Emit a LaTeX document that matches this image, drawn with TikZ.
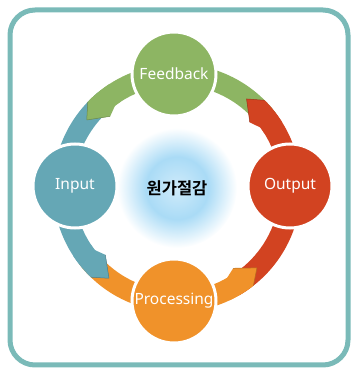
\documentclass[tikz,border=0pt]{standalone}
\usepackage{fontspec}
\setmainfont{Noto Sans}
\newfontfamily\kor{Noto Sans CJK KR Bold}
\usepackage{tikz}
\definecolor{fbgreen}{RGB}{141,181,99}
\definecolor{inblue}{RGB}{101,167,181}
\definecolor{outred}{RGB}{210,67,33}
\definecolor{procorange}{RGB}{240,146,42}
\definecolor{framecol}{RGB}{122,186,184}
\definecolor{glowblue}{RGB}{160,215,245}
\pgfdeclareradialshading{glow}{\pgfpoint{0bp}{0bp}}{color(0bp)=(glowblue!50!white); color(13bp)=(glowblue!90!white); color(25bp)=(white); color(50bp)=(white)}

\newcommand{\ringout}{124}
\newcommand{\ringin}{103}
% ring band, from angle #2 up to the head at #3
\newcommand{\ringbody}[3]{%
  \fill[#1] (#2:\ringout) arc[start angle=#2, end angle=#3-8, radius=\ringout]
    -- (#3-8:\ringin) arc[start angle=#3-8, end angle=#2, radius=\ringin] -- cycle;}
% arrow head, tip at angle #2
\newcommand{\ringhead}[2]{%
  \fill[#1] (#2-20:\ringout) arc[start angle=#2-20, end angle=#2-7, radius=\ringout]
    -- (#2:113) -- (#2-10:98) -- (#2-16:\ringin)
    arc[start angle=#2-16, end angle=#2-20, radius=\ringin] -- cycle;
  \draw[#1!75!black, line width=0.5pt, line join=round] (#2-7:\ringout) -- (#2:113) -- (#2-10:98);}

\begin{document}
\begin{tikzpicture}[x=1pt, y=1pt,
  stage/.style={circle, draw=white, line width=3pt, minimum size=84pt, inner sep=0pt,
    text=white, font=\fontsize{15.5}{18}\selectfont}]
  \useasboundingbox (0,0) rectangle (351,370);
  \draw[framecol, line width=5pt, rounded corners=25pt] (10,5) rectangle (348,360);
  \coordinate (c) at (177,182);
  \shade[shading=glow] (c) circle (60);

  \begin{scope}[shift={(c)}]
    \ringbody{inblue}{128}{233}
    \ringbody{procorange}{218}{315}
    \ringbody{outred}{-60}{52}
    \ringbody{fbgreen}{37}{143}
    \ringhead{inblue}{233}
    \ringhead{procorange}{315}
    \ringhead{outred}{52}
    \ringhead{fbgreen}{143}
  \end{scope}

  \node[stage, fill=fbgreen] (feedback) at (174,296) {Feedback};
  \node[stage, fill=inblue] (input) at (75,184) {Input};
  \node[stage, fill=outred] (output) at (290,184) {Output};
  \node[stage, fill=procorange] (processing) at (174,69) {Processing};
  \node[font=\kor\fontsize{16.5}{18}\selectfont] (goal) at (c) {원가절감};
\end{tikzpicture}
\end{document}
